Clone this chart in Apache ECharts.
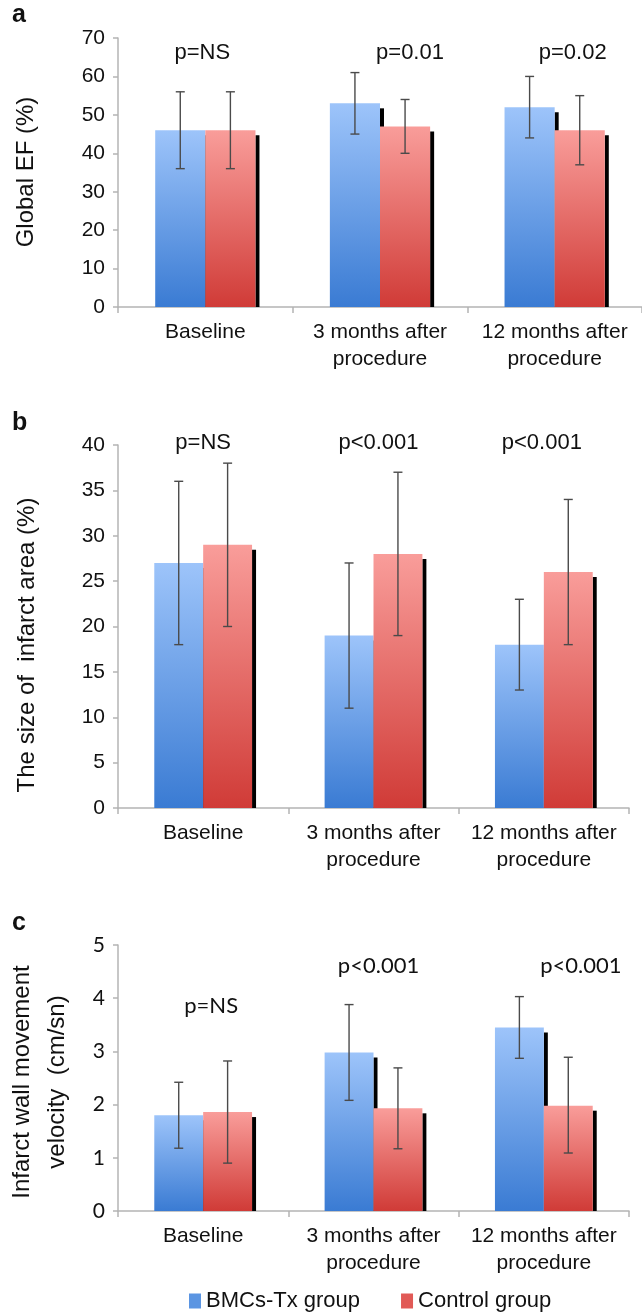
<!DOCTYPE html>
<html><head><meta charset="utf-8">
<script src="https://cdn.jsdelivr.net/npm/echarts@6/dist/echarts.min.js"></script>
<style>html,body{margin:0;padding:0;background:#fff}#c{width:642px;height:1315px}</style>
</head><body><div id="c"></div>
<script>
const categories = ['Baseline', '3 months after\nprocedure', '12 months after\nprocedure'];
const groupNames = ['BMCs-Tx group', 'Control group'];
// Panel a: Global EF (%)
const efBmc = [46, 53, 52];
const efBmcLow = [36, 45, 44];
const efBmcHigh = [56, 61, 60];
const efCtl = [46, 47, 46];
const efCtlLow = [36, 40, 37];
const efCtlHigh = [56, 54, 55];
const efP = ['p=NS', 'p=0.01', 'p=0.02'];
// Panel b: infarct area size (%)
const sizeBmc = [27, 19, 18];
const sizeBmcLow = [18, 11, 13];
const sizeBmcHigh = [36, 27, 23];
const sizeCtl = [29, 28, 26];
const sizeCtlLow = [20, 19, 18];
const sizeCtlHigh = [38, 37, 34];
const sizeP = ['p=NS', 'p<0.001', 'p<0.001'];
// Panel c: infarct wall movement velocity (cm/sn)
const velBmc = [1.8, 2.98, 3.45];
const velBmcLow = [1.18, 2.08, 2.87];
const velBmcHigh = [2.42, 3.88, 4.03];
const velCtl = [1.86, 1.93, 1.98];
const velCtlLow = [0.9, 1.17, 1.09];
const velCtlHigh = [2.82, 2.69, 2.89];
const velP = ['p=NS', 'p<0.001', 'p<0.001'];

const BAR_FRAC = 0.287;
const FONT = 'Liberation Sans, Arial, sans-serif';
const blueGrad = new echarts.graphic.LinearGradient(0,0,0,1,[{offset:0,color:'#9dc4fa'},{offset:1,color:'#3a7bd3'}]);
const redGrad = new echarts.graphic.LinearGradient(0,0,0,1,[{offset:0,color:'#f99d9a'},{offset:1,color:'#d03b37'}]);

const panels = [
  {bmc:efBmc, bl:efBmcLow, bh:efBmcHigh, ctl:efCtl, cl:efCtlLow, ch:efCtlHigh, p:efP,
   pY:[66,66,66], pDx:[-3,30,18], max:70, interval:10, font:FONT,
   grid:{left:118, top:38, width:524, height:269}, letter:'a', letterY:15,
   names:[{text:'Global EF (%)', x:26, y:172}]},
  {bmc:sizeBmc, bl:sizeBmcLow, bh:sizeBmcHigh, ctl:sizeCtl, cl:sizeCtlLow, ch:sizeCtlHigh, p:sizeP,
   pY:[40.2,40.2,40.2], pDx:[0,5,-2], max:40, interval:5, font:FONT,
   grid:{left:118, top:445, width:511, height:363}, letter:'b', letterY:423,
   names:[{text:'The size of  infarct area (%)', x:27, y:645}]},
  {bmc:velBmc, bl:velBmcLow, bh:velBmcHigh, ctl:velCtl, cl:velCtlLow, ch:velCtlHigh, p:velP,
   pY:[3.85,4.6,4.6], pDx:[8,5,37], max:5, interval:1, font:'Lato, sans-serif',
   grid:{left:118, top:945, width:511, height:266}, letter:'c', letterY:923,
   names:[{text:'Infarct wall movement', x:22, y:1082},{text:'velocity  (cm/sn)', x:57, y:1082}]}
];

function errRender(side){
  return function(params, api){
    const c = api.value(0);
    const lo = api.coord([c, api.value(1)]);
    const hi = api.coord([c, api.value(2)]);
    const bw = api.size([1,0])[0]*BAR_FRAC;
    const x = lo[0] + side*bw/2;
    const st = {stroke:'#4a4a4a', lineWidth:1.4};
    return {type:'group', children:[
      {type:'line', shape:{x1:x,y1:hi[1],x2:x,y2:lo[1]}, style:st},
      {type:'line', shape:{x1:x-4.5,y1:hi[1],x2:x+4.5,y2:hi[1]}, style:st},
      {type:'line', shape:{x1:x-4.5,y1:lo[1],x2:x+4.5,y2:lo[1]}, style:st}
    ]};
  };
}
function shadowRender(side){
  return function(params, api){
    const c = api.value(0);
    const top = api.coord([c, api.value(1)]);
    const base = api.coord([c, 0]);
    const bw = api.size([1,0])[0]*BAR_FRAC;
    const xr = top[0] + (side > 0 ? bw : 0);
    return {type:'rect', shape:{x:xr, y:top[1]+5, width:4, height:Math.max(0, base[1]-top[1]-5)},
      style:{fill:'#000'}};
  };
}

const grids=[], xAxes=[], yAxes=[], series=[], graphics=[];
panels.forEach((p,i)=>{
  grids.push(p.grid);
  xAxes.push({type:'category', gridIndex:i, data:categories,
    axisLine:{lineStyle:{color:'#b4b4b4', width:1.5}}, axisTick:{show:true, length:6, lineStyle:{color:'#b4b4b4', width:1.5}},
    axisLabel:{color:'#111', fontSize:21, fontFamily:FONT, lineHeight:27, margin:12, interval:0}});
  yAxes.push({type:'value', gridIndex:i, min:0, max:p.max, interval:p.interval,
    splitLine:{show:false}, axisLine:{show:true, lineStyle:{color:'#b4b4b4', width:1.5}},
    axisTick:{show:true, length:5, lineStyle:{color:'#b4b4b4', width:1.5}},
    axisLabel:{color:'#111', fontSize:21, fontFamily:p.font, margin:13}});
  series.push({type:'bar', name:groupNames[0], xAxisIndex:i, yAxisIndex:i, data:p.bmc, barWidth:(BAR_FRAC*100)+'%', barGap:'0%',
    itemStyle:{color:blueGrad}, emphasis:{disabled:true}});
  series.push({type:'custom', xAxisIndex:i, yAxisIndex:i, renderItem:shadowRender(-1), silent:true,
    data:p.bmc.map((v,k)=>[k, v])});
  series.push({type:'bar', name:groupNames[1], xAxisIndex:i, yAxisIndex:i, data:p.ctl, barWidth:(BAR_FRAC*100)+'%', barGap:'0%',
    itemStyle:{color:redGrad}, emphasis:{disabled:true}});
  series.push({type:'custom', xAxisIndex:i, yAxisIndex:i, renderItem:shadowRender(1), silent:true,
    data:p.ctl.map((v,k)=>[k, v])});
  series.push({type:'custom', xAxisIndex:i, yAxisIndex:i, renderItem:errRender(-1), z:5, silent:true,
    data:p.bmc.map((v,k)=>[k, p.bl[k], p.bh[k]])});
  series.push({type:'custom', xAxisIndex:i, yAxisIndex:i, renderItem:errRender(1), z:5, silent:true,
    data:p.ctl.map((v,k)=>[k, p.cl[k], p.ch[k]])});
  series.push({type:'scatter', xAxisIndex:i, yAxisIndex:i, symbolSize:0, z:6, silent:true, clip:false,
    itemStyle:{opacity:1},
    data:p.p.map((t,k)=>({value:[k, p.pY[k]], label:{offset:[p.pDx[k],0]}})),
    label:{show:true, position:'inside', formatter:(d)=>p.p[d.dataIndex], fontSize:22, color:'#111', opacity:1,
      fontFamily: (i===2 ? 'Lato, sans-serif' : FONT)}});
  graphics.push({type:'text', x:12, y:p.letterY, style:{text:p.letter, fontSize:25, fontWeight:'bold', fill:'#111',
    fontFamily:FONT, verticalAlign:'middle', align:'left'}});
  p.names.forEach(n=>{
    graphics.push({type:'text', x:n.x, y:n.y, rotation:Math.PI/2,
      style:{text:n.text, fontSize:24, fill:'#111', fontFamily:FONT, align:'center', verticalAlign:'middle'}});
  });
});

const chart = echarts.init(document.getElementById('c'));
chart.setOption({
  animation:false,
  grid:grids, xAxis:xAxes, yAxis:yAxes, series:series, graphic:graphics,
  legend:{data:[{name:groupNames[0], itemStyle:{color:'#5b95e2'}},{name:groupNames[1], itemStyle:{color:'#e15a56'}}],
    top:1290, left:189, icon:'rect', itemWidth:12, itemHeight:15, itemGap:41, padding:0,
    textStyle:{fontSize:22, color:'#111', fontFamily:FONT}}
});
</script></body></html>
